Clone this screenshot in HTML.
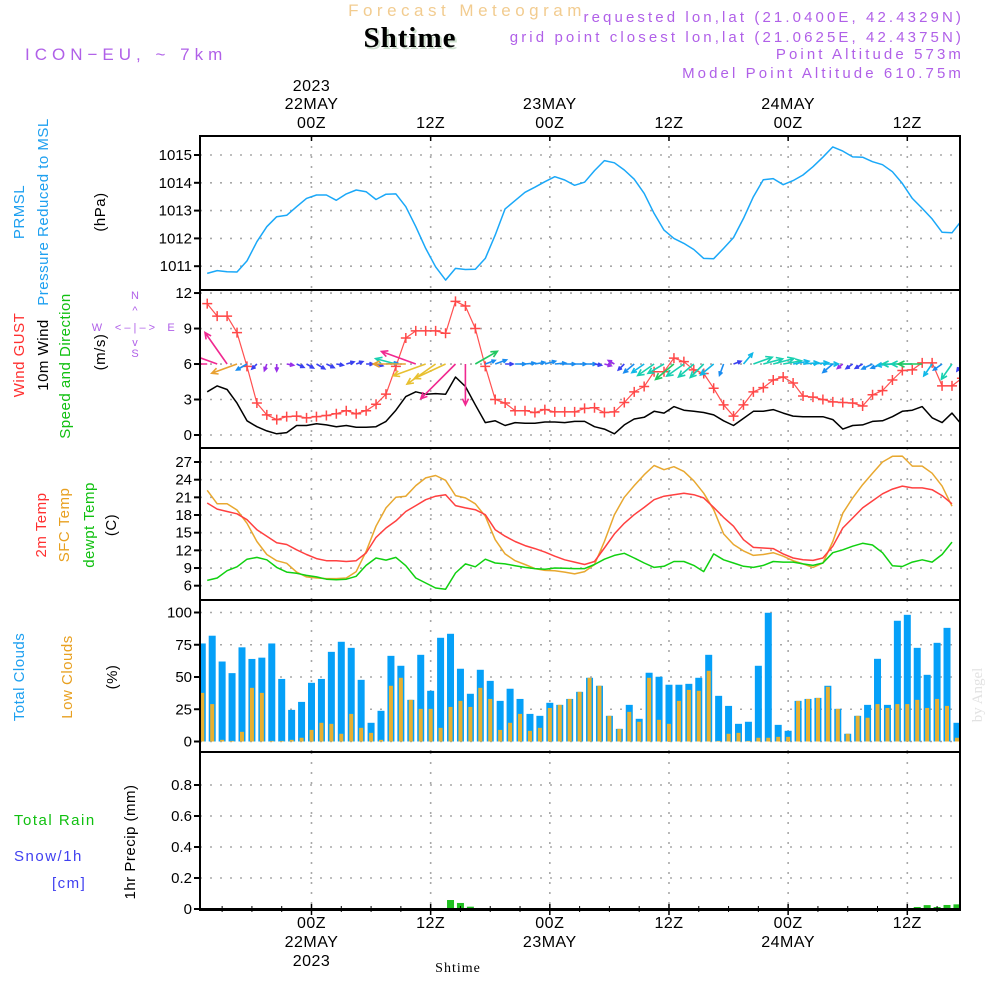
<!DOCTYPE html>
<html><head><meta charset="utf-8"><style>
html,body{margin:0;padding:0;background:#fff;}
svg{display:block;font-family:"Liberation Sans",sans-serif;}
</style></head><body>
<svg id="chart" width="1000" height="1000" viewBox="0 0 1000 1000" xmlns="http://www.w3.org/2000/svg">
<rect x="0" y="0" width="1000" height="1000" fill="#fff"/>
<text x="467" y="16" text-anchor="middle" fill="#f2cc90" font-size="17" letter-spacing="4.5">Forecast Meteogram</text>
<text x="412" y="49" text-anchor="middle" fill="#cfe0cf" font-size="29" font-weight="bold" font-family="Liberation Serif, serif" letter-spacing="1">Shtime</text>
<text x="410" y="47" text-anchor="middle" fill="#000" font-size="29" font-weight="bold" font-family="Liberation Serif, serif" letter-spacing="1">Shtime</text>
<text x="25" y="60" fill="#b060e8" font-size="17" letter-spacing="5">ICON−EU, ~ 7km</text>
<g fill="#b060e8" font-size="15" text-anchor="end" letter-spacing="3.1">
<text x="964" y="22">requested lon,lat (21.0400E, 42.4329N)</text>
<text x="964" y="42">grid point closest lon,lat (21.0625E, 42.4375N)</text>
<text x="964" y="59">Point Altitude 573m</text>
<text x="964" y="78">Model Point Altitude 610.75m</text>
</g>
<g font-size="15" letter-spacing="0.5">
<text transform="translate(24,212) rotate(-90)" text-anchor="middle" fill="#1ea0f0">PRMSL</text>
<text transform="translate(48,212) rotate(-90)" text-anchor="middle" fill="#1ea0f0">Pressure Reduced to MSL</text>
<text transform="translate(105,212) rotate(-90)" text-anchor="middle" fill="#000">(hPa)</text>
<text transform="translate(24,355) rotate(-90)" text-anchor="middle" fill="#ff3030">Wind GUST</text>
<text transform="translate(48,355) rotate(-90)" text-anchor="middle" fill="#000">10m Wind</text>
<text transform="translate(70,366) rotate(-90)" text-anchor="middle" fill="#10c010">Speed and Direction</text>
<text transform="translate(105,352) rotate(-90)" text-anchor="middle" fill="#000">(m/s)</text>
<text transform="translate(46,525) rotate(-90)" text-anchor="middle" fill="#ff3030">2m Temp</text>
<text transform="translate(69,525) rotate(-90)" text-anchor="middle" fill="#e8a020">SFC Temp</text>
<text transform="translate(94,525) rotate(-90)" text-anchor="middle" fill="#10c010">dewpt Temp</text>
<text transform="translate(116,525) rotate(-90)" text-anchor="middle" fill="#000">(C)</text>
<text transform="translate(24,677) rotate(-90)" text-anchor="middle" fill="#1ea0f0">Total Clouds</text>
<text transform="translate(72,677) rotate(-90)" text-anchor="middle" fill="#e8a020">Low Clouds</text>
<text transform="translate(117,677) rotate(-90)" text-anchor="middle" fill="#000">(%)</text>
<text x="14" y="825" fill="#10c010" letter-spacing="1.5">Total  Rain</text>
<text x="14" y="861" fill="#4040f0" letter-spacing="1.5">Snow/1h</text>
<text x="52" y="888" fill="#4040f0" letter-spacing="1.5">[cm]</text>
<text transform="translate(135,842) rotate(-90)" text-anchor="middle" fill="#000">1hr Precip (mm)</text>
</g>
<g fill="#b060e8" font-size="11" text-anchor="middle">
<text x="135" y="299">N</text>
<text x="135" y="314">^</text>
<text x="97" y="331">W</text>
<text x="135" y="331">&lt; – | – &gt;</text>
<text x="171" y="331">E</text>
<text x="135" y="346">v</text>
<text x="135" y="357">S</text>
</g>
<text transform="translate(982,695) rotate(-90)" text-anchor="middle" fill="#e2e2e2" font-size="15" font-family="Liberation Serif, serif">by Angel</text>
<text x="458" y="972" text-anchor="middle" fill="#000" font-size="14" font-family="Liberation Serif, serif" letter-spacing="1">Shtime</text>
<g id="plot"></g>
</svg>
<script>
const pressure=[1010.74,1010.84,1010.80,1010.79,1011.19,1011.88,1012.42,1012.78,1012.83,1013.14,1013.44,1013.56,1013.56,1013.37,1013.6,1013.74,1013.68,1013.4,1013.59,1013.6,1013.14,1012.42,1011.64,1010.98,1010.5,1010.92,1010.88,1010.89,1011.28,1012.12,1013.06,1013.36,1013.66,1013.84,1014.04,1014.22,1014.1,1013.91,1014.02,1014.44,1014.8,1014.72,1014.46,1014.13,1013.62,1012.9,1012.3,1012.0,1011.82,1011.6,1011.28,1011.27,1011.64,1012.03,1012.72,1013.5,1014.11,1014.15,1013.93,1014.08,1014.28,1014.58,1014.92,1015.29,1015.14,1014.93,1014.92,1014.76,1014.65,1014.4,1013.98,1013.44,1013.08,1012.7,1012.22,1012.2,1012.66];
const gust=[11.1,10.05,10.05,8.65,5.8,2.7,1.7,1.3,1.55,1.6,1.45,1.55,1.65,1.8,2.05,1.8,2.05,2.6,3.45,5.8,8.2,8.8,8.8,8.8,8.6,11.3,10.9,9.0,5.8,3.0,2.7,2.05,2.05,1.9,2.15,1.95,1.95,1.95,2.25,2.3,1.9,1.95,2.75,3.65,4.1,5.35,5.35,6.5,6.2,5.5,5.2,3.95,2.55,1.6,2.55,3.65,4.0,4.65,4.9,4.4,3.3,3.2,3.0,2.8,2.75,2.7,2.45,3.4,3.75,4.65,5.45,5.5,6.1,6.1,4.15,4.15,4.8];
const wind10=[3.65,4.15,3.85,2.7,1.2,0.7,0.35,0.1,0.2,0.8,0.8,0.95,0.85,0.7,0.8,0.65,0.65,0.7,1.15,2.1,3.25,3.65,3.45,3.5,3.45,4.9,4.1,2.55,1.05,1.2,0.8,1.05,1.0,1.0,1.1,1.1,1.05,1.15,1.15,0.7,0.5,0.1,0.85,1.35,1.5,2.0,1.85,2.4,2.1,2.0,1.9,1.7,1.2,0.8,1.4,2.0,2.0,2.15,1.85,1.6,1.55,1.55,1.55,1.3,0.5,0.8,0.85,1.15,1.2,1.55,2.0,2.1,2.4,1.45,1.05,1.85,0.85];
const windDirTo=[180,160,125,200,210,225,250,270,-10,-25,-30,-30,-25,-10,15,20,0,-15,5,165,180,160,200,215,205,225,270,30,20,20,0,0,5,10,15,5,0,0,0,-10,-15,150,225,220,215,215,210,220,215,220,225,220,250,20,50,20,15,15,10,10,5,5,0,220,220,215,210,205,200,185,180,180,180,235,215,235,235];
const t2m=[20.04,19.0,18.6,18.2,17.2,15.5,14.4,13.3,13.0,12.1,11.3,10.6,10.25,10.25,10.1,10.25,11.55,14.2,15.8,17.0,18.6,19.6,20.6,21.2,21.45,19.6,19.2,18.9,18.06,15.5,14.4,13.5,12.8,12.3,11.7,11.0,10.4,10.0,9.6,10.1,12.4,14.8,16.6,18.06,19.3,20.6,21.2,21.45,21.7,21.45,20.9,19.3,17.6,16.1,13.8,12.5,12.4,12.3,11.4,10.7,10.4,10.3,10.7,12.7,15.8,17.5,19.2,20.4,21.6,22.4,22.9,22.6,22.6,22.3,21.3,19.9];
const tsfc=[22.2,19.9,19.9,18.85,16.6,13.5,11.3,10.25,9.8,8.3,7.5,7.3,7.2,7.2,7.3,8.4,11.8,16.1,19.2,21.0,21.2,23.0,24.3,24.7,23.9,21.3,20.9,19.9,17.8,13.8,11.4,10.25,9.6,8.9,8.6,8.55,8.3,8.0,8.4,9.6,13.5,18.06,21.0,23.0,24.85,26.4,25.7,26.2,25.4,23.8,21.7,18.9,14.8,13.0,11.9,11.15,11.3,11.6,11.0,10.25,9.7,9.1,9.85,13.5,18.3,20.9,23.15,25.1,27.0,27.96,28.0,26.3,26.3,25.1,22.9,19.5];
const tdew=[6.9,7.3,8.55,9.2,10.5,10.8,10.4,9.1,8.3,8.1,7.75,7.5,7.1,7.0,7.1,7.6,9.45,10.7,10.35,10.8,9.4,7.3,6.45,5.6,5.4,8.15,9.7,9.2,10.5,9.85,9.7,9.4,9.1,8.9,8.8,9.0,8.95,8.9,8.9,9.6,10.5,11.15,11.5,10.7,9.85,9.1,9.3,10.1,10.1,9.45,8.4,11.4,10.4,9.85,9.3,9.1,9.45,10.1,10.0,10.0,9.7,9.45,9.85,11.6,12.1,12.7,13.2,12.9,11.6,9.4,9.25,10.0,10.4,10.0,11.3,13.4];
const totalClouds=[76,82,62,53,73,64,65,76,48.5,24.5,30.7,45.5,48.5,69.5,77.3,72.6,47.8,14.5,23.8,66.4,58.7,32.3,67.2,39.3,80.4,83.5,56.4,37,55.6,47,31.5,40.9,33,21.4,19.9,30,28.4,33,38.5,49.4,43.2,19.9,9.8,28.4,17.6,53.3,50.2,44,44,44.7,49.4,67.2,35.4,27.6,13.7,15.3,58.7,99.8,12.9,8.3,31.5,33,33.8,43.2,25.3,6,19.9,28.4,64.1,28.4,93.6,98.2,72.6,51.7,76.5,88.1,14.5];
const lowClouds=[37.7,29,1.3,0.5,7.5,41.6,37.7,0.5,0.5,1.3,2.9,9,14.5,13.7,6,21.4,10.6,6.7,1.3,43.2,49.4,32.3,25.3,25.3,10.6,26.8,31.5,26.8,41.6,33,9,14.5,21.4,8.3,10.6,26,28.4,33,38.5,49.4,43.2,19.9,9.8,23,15.3,49.4,16.8,13.7,31.5,40,39.3,54.8,0.5,6,6.7,0.5,2.9,2.9,3.6,3.6,31.5,33,33.8,42.4,25.3,6,19.9,18.4,29,26,29,29,32.3,26,33,27.6,2.9];
const precip=[0,0,0,0,0,0,0,0,0,0,0,0,0,0,0,0,0,0,0,0,0,0,0,0,0,0.058,0.039,0.015,0.003,0,0,0,0,0,0,0,0,0,0,0,0,0,0,0,0,0,0,0,0.004,0,0.005,0,0,0,0,0,0,0,0,0,0,0,0,0,0,0,0,0,0,0,0,0,0.013,0.025,0.013,0.026,0.03];
const tickHours=[0,12,24,36,48,60];
const tickZ=["00Z","12Z","00Z","12Z","00Z","12Z"];
const tickDay=["22MAY","","23MAY","","24MAY",""];
const pTicks=[1011,1012,1013,1014,1015];
const wTicks=[0,3,6,9,12];
const tTicks=[6,9,12,15,18,21,24,27];
const cTicks=[0,25,50,75,100];
const rTicks=[0,0.2,0.4,0.6,0.8];
const lineStartHour=-10.5, barStartHour=-11;

const X0=200,X1=960;
const xS=h=>311.5+9.93*h;
const yP=p=>155+(1015-p)*27.8;
const yW=v=>435-v*11.83;
const yT=t=>462+(27-t)*5.89;
const yC=c=>741.5-c*1.29;
const yR=r=>909-r*155;
const panels=[{n:'pressure',y0:136,y1:290},{n:'wind',y0:290,y1:448},{n:'temp',y0:448,y1:600},{n:'clouds',y0:600,y1:752},{n:'precip',y0:752,y1:910}];

const NS='http://www.w3.org/2000/svg';
const root=document.getElementById('plot');
function mk(tag,attrs,parent){const e=document.createElementNS(NS,tag);for(const k in attrs)e.setAttribute(k,attrs[k]);(parent||root).appendChild(e);return e;}

const defs=mk('defs',{});
const cp=mk('clipPath',{id:'plotclip'},defs);
mk('rect',{x:X0,y:136,width:X1-X0,height:774},cp);

const grid=mk('g',{stroke:'#a8a8a8','stroke-width':1.6,'stroke-dasharray':'2 8'});


panels.forEach(p=>{tickHours.forEach(h=>{const l=mk('line',{x1:xS(h),x2:xS(h),y1:p.y0,y2:p.y1},grid);

});});
function hgrid(ticks,ys,name,fmt){const g=mk('g',{'font-size':15,'text-anchor':'end',fill:'#000'});


ticks.forEach(t=>{const y=ys(t);const l=mk('line',{x1:X0,x2:X1,y1:y,y2:y,stroke:'#a8a8a8','stroke-width':1.6,'stroke-dasharray':'2 8'},g);


const tk=mk('line',{x1:X0-6,x2:X0,y1:y,y2:y,stroke:'#000','stroke-width':2},g);


const tx=mk('text',{x:X0-8,y:y+5},g);tx.textContent=fmt?fmt(t):String(t);

});}
hgrid(pTicks,yP,'pressure');hgrid(wTicks,yW,'wind');hgrid(tTicks,yT,'temp');hgrid(cTicks,yC,'clouds');hgrid(rTicks,yR,'precip',v=>v===0?'0':v.toFixed(1));

const data=mk('g',{'clip-path':'url(#plotclip)'});
function poly(vals,ys,start,color,w,name){const pts=vals.map((v,k)=>xS(start+k).toFixed(1)+','+ys(v).toFixed(1)).join(' ');
const e=mk('polyline',{points:pts,fill:'none',stroke:color,'stroke-width':w,'stroke-linejoin':'round'},data);

return e;}

totalClouds.forEach((v,i)=>{const x=xS(barStartHour+i);
const b=mk('rect',{x:x-3.5,y:yC(v),width:7,height:yC(0)-yC(v),fill:'#05a0f8'},data);

});
lowClouds.forEach((v,i)=>{const x=xS(barStartHour+i);
const b=mk('rect',{x:x-2,y:yC(v),width:4,height:yC(0)-yC(v),fill:'#e8b030'},data);

});
precip.forEach((v,i)=>{if(v<=0)return;const x=xS(barStartHour+i);
const b=mk('rect',{x:x-3.5,y:yR(v),width:7,height:yR(0)-yR(v),fill:'#20c020'},data);

});
const base=mk('line',{x1:X0,x2:X1,y1:yR(0),y2:yR(0),stroke:'#000','stroke-width':2},data);



poly(pressure,yP,lineStartHour,'#1aa8f8',1.5,'pressure-line');
poly(tsfc,yT,lineStartHour,'#e8a830',1.5,'sfc-temp-line');
poly(t2m,yT,lineStartHour,'#ff4040',1.5,'t2m-line');
poly(tdew,yT,lineStartHour,'#10d010',1.5,'dewpoint-line');
poly(wind10,yW,lineStartHour,'#000',1.5,'wind10m-line');
poly(gust,yW,lineStartHour,'#ff5050',1.2,'gust-line');
gust.forEach((v,k)=>{const x=xS(lineStartHour+k),y=yW(v);
const m=mk('path',{d:`M${x-5},${y}h10M${x},${y-5}v10`,stroke:'#ff4848','stroke-width':1.5},data);

});

function wcol(s){if(s<0.6)return '#9a30e8';if(s<1.0)return '#3a40f0';if(s<1.4)return '#1a8cf0';if(s<1.8)return '#10b8e8';if(s<2.2)return '#18d0b0';if(s<2.7)return '#20c860';if(s<3.3)return '#e8a030';if(s<3.55)return '#e8c030';return '#f02890';}
windDirTo.forEach((d,k)=>{const s=wind10[k];const x=xS(lineStartHour+k),y=yW(6);
const L=Math.max(7,10*s);const a=d*Math.PI/180;const ex=x+L*Math.cos(a),ey=y-L*Math.sin(a);
const h1=a+Math.PI-0.45,h2=a+Math.PI+0.45;const hl=Math.min(7,Math.max(4,L*0.35));
const e=mk('path',{d:`M${x.toFixed(1)},${y.toFixed(1)}L${ex.toFixed(1)},${ey.toFixed(1)}M${(ex+hl*Math.cos(h1)).toFixed(1)},${(ey-hl*Math.sin(h1)).toFixed(1)}L${ex.toFixed(1)},${ey.toFixed(1)}L${(ex+hl*Math.cos(h2)).toFixed(1)},${(ey-hl*Math.sin(h2)).toFixed(1)}`,stroke:wcol(s),'stroke-width':1.6,fill:'none'},data);

});

panels.forEach(p=>{const r=mk('rect',{x:X0,y:p.y0,width:X1-X0,height:p.y1-p.y0,fill:'none',stroke:'#000','stroke-width':2});

});

const ax=mk('g',{'font-size':16,'text-anchor':'middle',fill:'#000','letter-spacing':'0.5'});


tickHours.forEach((h,i)=>{const x=xS(h);
const t1=mk('line',{x1:x,x2:x,y1:136,y2:141,stroke:'#000','stroke-width':1.5},ax);


const t2=mk('line',{x1:x,x2:x,y1:904,y2:915,stroke:'#000','stroke-width':1.5},ax);


const a=mk('text',{x:x,y:128},ax);a.textContent=tickZ[i];


const b=mk('text',{x:x,y:928},ax);b.textContent=tickZ[i];


if(tickDay[i]){const c=mk('text',{x:x,y:109},ax);c.textContent=tickDay[i];


const d=mk('text',{x:x,y:947},ax);d.textContent=tickDay[i];

}
if(i===0){const y1=mk('text',{x:x,y:91},ax);y1.textContent='2023';


const y2=mk('text',{x:x,y:966},ax);y2.textContent='2023';

}});
for(let h=-9;h<=63;h+=3){if(h%12===0)continue;const x=xS(h);
const m=mk('line',{x1:x,x2:x,y1:906,y2:912,stroke:'#000','stroke-width':1},ax);

}
</script>
</body></html>
